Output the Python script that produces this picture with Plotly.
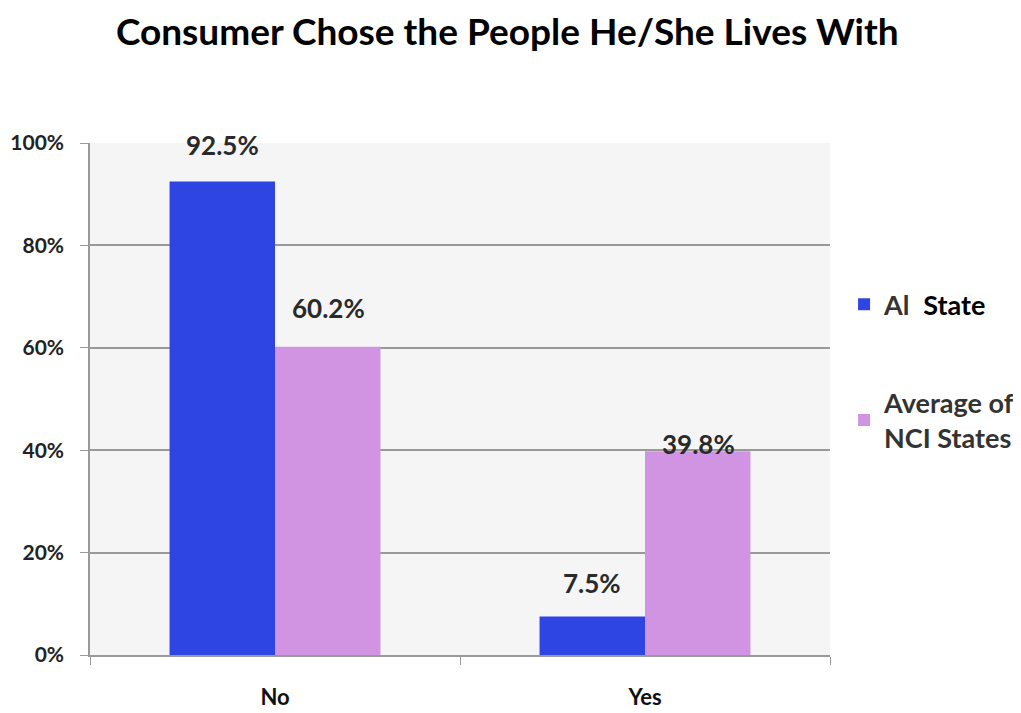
import plotly.graph_objects as go

categories = ["No", "Yes"]
al_state = [92.5, 7.5]
nci_avg = [60.2, 39.8]
series_names = ["<b>Al</b>  <b><span style='color:#000000'>State</span></b>",
                "<b>Average of<br>NCI States</b>"]
tick_vals = [0, 20, 40, 60, 80, 100]
tick_text = ["<b>0%</b>", "<b>20%</b>", "<b>40%</b>", "<b>60%</b>", "<b>80%</b>", "<b>100%</b>"]

colors = ["#2f45e3", "#d094e3"]
label_yshift = [[36, 34], [39, 7]]  # per series, per category (px)
label_xshift = [-53, 53]

FONT = "Lato"
fig = go.Figure()
for i, (name, vals) in enumerate(zip(series_names, [al_state, nci_avg])):
    fig.add_trace(go.Bar(
        x=categories, y=vals, name=name, marker_color=colors[i],
        marker_line_width=0, legendgroup=str(i),
    ))
    for j, (c, v) in enumerate(zip(categories, vals)):
        fig.add_annotation(
            x=c, y=v, text=f"<b>{v:.1f}%</b>", showarrow=False,
            xshift=label_xshift[i], yshift=label_yshift[i][j], yanchor="middle",
            font=dict(family=FONT, size=26, color="#2a2a2a"),
        )

fig.update_layout(
    width=1021, height=713,
    margin=dict(l=82, r=199, t=135, b=66, autoexpand=False),
    paper_bgcolor="white", plot_bgcolor="#f5f5f5",
    barmode="group", bargap=0.43, bargroupgap=0,
    title=dict(text="<b>Consumer Chose the People He/She Lives With</b>",
               x=0.489, xanchor="center", y=0.966, yanchor="middle",
               font=dict(family=FONT, size=37, color="#000000")),
    legend=dict(x=1.019, xanchor="left", y=0.732, yanchor="top",
                font=dict(family=FONT, size=27, color="#333333"),
                tracegroupgap=60, itemwidth=30, bgcolor="rgba(0,0,0,0)"),
    showlegend=True,
)
fig.update_xaxes(
    automargin=False,
    showline=True, linecolor="#999999", linewidth=1.5,
    ticks="outside", ticklen=8, tickcolor="#999999", tickson="boundaries",
    tickvals=categories, ticktext=[f"<b>{c}</b>" for c in categories],
    tickfont=dict(family=FONT, size=22, color="#111111"),
    ticklabelstandoff=22,
)
fig.update_yaxes(
    automargin=False,
    range=[0, 100], tickvals=tick_vals, ticktext=tick_text,
    showline=True, linecolor="#999999", linewidth=1.5,
    ticks="outside", ticklen=8, tickcolor="#999999",
    showgrid=True, gridcolor="#999999", gridwidth=1.5, zeroline=False,
    tickfont=dict(family=FONT, size=21, color="#222222"),
    ticklabelstandoff=12,
)
fig.write_html("out.html")
